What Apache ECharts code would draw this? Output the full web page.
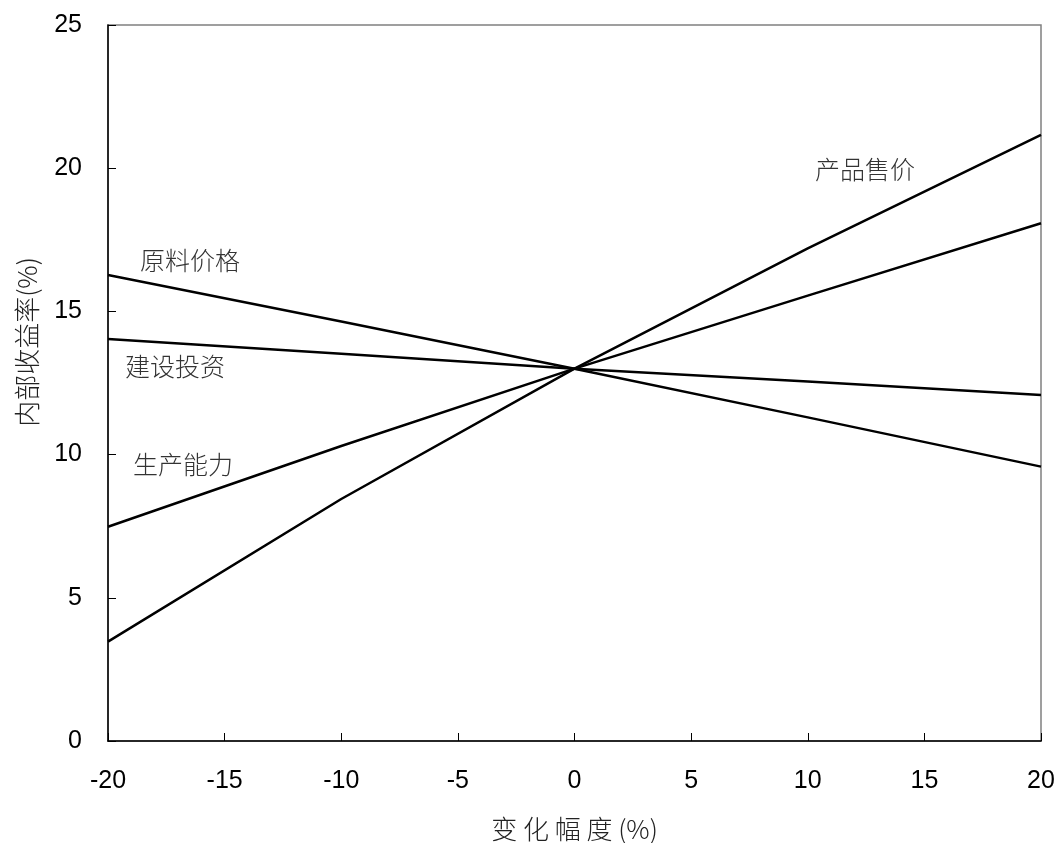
<!DOCTYPE html>
<html>
<head>
<meta charset="utf-8">
<script src="https://cdn.jsdelivr.net/npm/echarts@6/dist/echarts.min.js"></script>
<style>html,body{margin:0;padding:0;background:#fff}#c{width:1059px;height:843px}</style>
</head>
<body>
<div id="c"></div>
<script>
const xValues = [-20, -10, 0, 10, 20];
const seriesNames = ['产品售价', '生产能力', '建设投资', '原料价格'];
const priceValues = [3.47, 8.45, 13.0, 17.2, 21.16];
const capacityValues = [7.48, 10.3, 13.0, 15.55, 18.08];
const investValues = [14.04, 13.52, 13.0, 12.55, 12.08];
const materialValues = [16.27, 14.65, 13.0, 11.3, 9.58];
const labelPositions = [[12.45, 19.94], [-16.78, 9.64], [-17.13, 13.06], [-16.48, 16.76]];
const xTicks = [-20, -15, -10, -5, 0, 5, 10, 15, 20];
const yTicks = [0, 5, 10, 15, 20, 25];
const xTitle = '变 化 幅 度 (%)';
const yTitle = '内部收益率(%)';

const allValues = [priceValues, capacityValues, investValues, materialValues];
const font = '"Liberation Sans", Arial, sans-serif';
const cjk = '"Noto Sans CJK SC", sans-serif';

const series = seriesNames.map((name, i) => ({
  name: name,
  type: 'line',
  data: xValues.map((x, j) => [x, allValues[i][j]]),
  showSymbol: false,
  lineStyle: { color: '#000', width: 2.5 },
  z: 3,
  markPoint: {
    symbol: 'circle', symbolSize: 0,
    data: [{ coord: labelPositions[i] }],
    label: { show: true, position: 'inside', formatter: name, color: '#333', fontSize: 25, fontWeight: 300, fontFamily: cjk }
  }
}));

const chart = echarts.init(document.getElementById('c'), null, { renderer: 'canvas' });
chart.setOption({
  animation: false,
  backgroundColor: '#fff',
  grid: { left: 108, right: 18, top: 25, bottom: 102, containLabel: false, outerBoundsMode: 'none', show: true, borderColor: '#808080', borderWidth: 1.5 },
  xAxis: {
    type: 'value', min: xTicks[0], max: xTicks[xTicks.length - 1], interval: 5,
    name: xTitle, nameLocation: 'middle', nameGap: 75,
    nameTextStyle: { fontSize: 26, color: '#222', fontWeight: 300, fontFamily: cjk },
    axisLine: { show: true, onZero: false, lineStyle: { color: '#000', width: 1.5 } },
    axisTick: { show: true, inside: true, length: 8, lineStyle: { color: '#000' } },
    axisLabel: { fontSize: 25, color: '#000', fontFamily: font, margin: 28 },
    splitLine: { show: false }
  },
  yAxis: {
    type: 'value', min: yTicks[0], max: yTicks[yTicks.length - 1], interval: 5,
    axisLine: { show: true, onZero: false, lineStyle: { color: '#000', width: 1.5 } },
    axisTick: { show: true, inside: true, length: 8, lineStyle: { color: '#000' } },
    axisLabel: { fontSize: 25, color: '#000', fontFamily: font, margin: 26 },
    splitLine: { show: false }
  },
  graphic: [{
    type: 'text', x: 27, y: 342, rotation: Math.PI / 2,
    style: { text: yTitle, fontSize: 26, fontWeight: 300, fill: '#222', fontFamily: cjk, align: 'center', verticalAlign: 'middle' }
  }],
  series: series
});
</script>
</body>
</html>
